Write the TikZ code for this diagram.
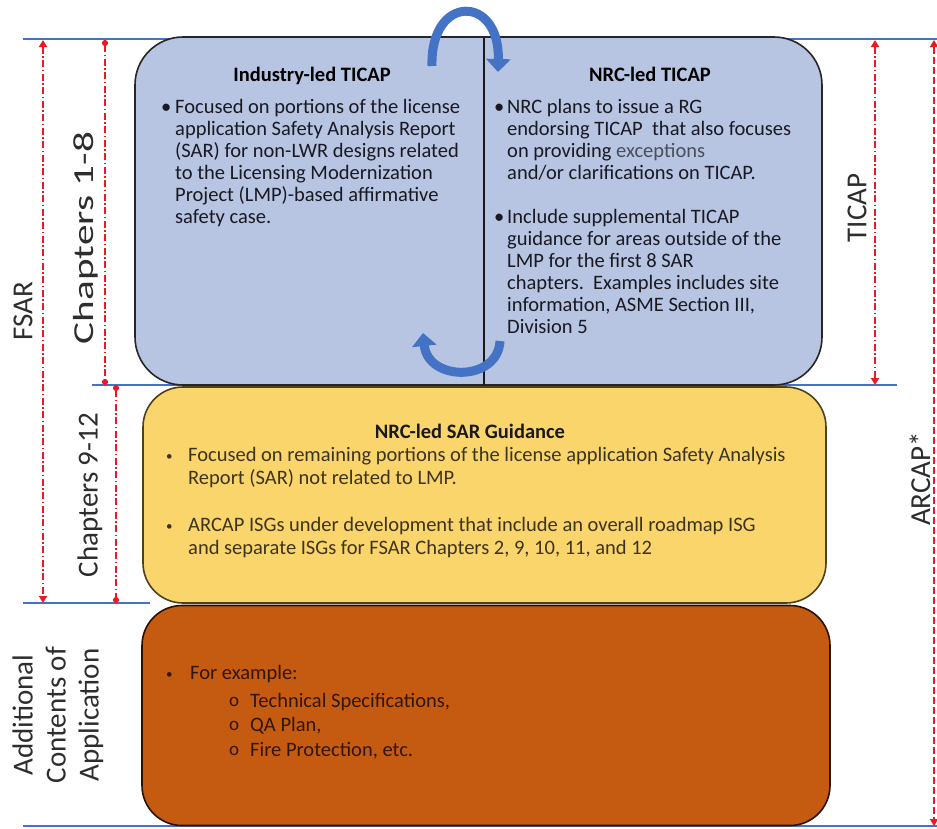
\documentclass[tikz,border=0pt]{standalone}
\usepackage{fontspec}
\setmainfont{Carlito}
\usetikzlibrary{arrows.meta}
\definecolor{boxblue}{RGB}{183,196,226}
\definecolor{boxyellow}{RGB}{250,213,108}
\definecolor{boxbrown}{RGB}{197,90,17}
\definecolor{lineblue}{RGB}{68,114,196}
\definecolor{dimred}{RGB}{235,25,35}
\definecolor{ytext}{RGB}{60,52,30}
\definecolor{btext}{RGB}{50,22,5}
\definecolor{ttext}{RGB}{25,25,35}
\definecolor{labtext}{RGB}{45,45,45}
\newcommand{\bodyfont}{\fontsize{20.5}{22}\selectfont}
\newcommand{\labfont}{\fontsize{29}{33}\selectfont}
\newcommand{\smallbul}{{\fontsize{13}{13}\selectfont\raisebox{1pt}{•}}}
\begin{document}
\begin{tikzpicture}[x=1pt,y=-1pt,
  panel/.style={rectangle, rounded corners=45pt, line width=1.6pt, inner sep=0pt},
  hline/.style={draw=lineblue, line width=1.5pt},
  dimarrow/.style={draw=dimred, line width=1.8pt, dash pattern=on 7pt off 2.5pt on 1.5pt off 2.5pt,
     {Triangle[width=8pt,length=7pt]}-{Triangle[width=8pt,length=7pt]}},
  dimdot/.style={draw=dimred, line width=1.8pt, dash pattern=on 7pt off 2.5pt on 1.5pt off 2.5pt,
     {Circle[length=6pt]}-{Circle[length=6pt]}},
  sidelabel/.style={rotate=90, font=\labfont, text=labtext, inner sep=0pt},
  txt/.style={anchor=base west, inner sep=0pt, font=\bodyfont},
  ttl/.style={anchor=base, inner sep=0pt, font=\bodyfont\bfseries},
  curv/.style={draw=lineblue, line width=9pt, -{Triangle[width=24pt,length=13pt]}}
]
\useasboundingbox (0,0) rectangle (937,828);

% blue horizontal reference lines
\coordinate (h1a) at (23,39);  \coordinate (h1b) at (937,39);
\coordinate (h2a) at (92,385); \coordinate (h2b) at (897,385);
\coordinate (h3a) at (23,603); \coordinate (h3b) at (150,603);
\coordinate (h4a) at (23,826); \coordinate (h4b) at (937,826);
\draw[hline] (h1a) -- (h1b);
\draw[hline] (h2a) -- (h2b);
\draw[hline] (h3a) -- (h3b);
\draw[hline] (h4a) -- (h4b);

% panels
\node[panel, rounded corners=48pt, draw=black!85, fill=boxblue, minimum width=687pt, minimum height=348pt] (top) at (478.5,211) {};
\node[panel, rounded corners=40pt, draw=black!70!boxyellow, fill=boxyellow, minimum width=683pt, minimum height=216pt] (mid) at (484.5,495) {};
\node[panel, rounded corners=40pt, draw=black!80!boxbrown, fill=boxbrown, minimum width=688pt, minimum height=220pt] (bot) at (486,715.5) {};

% divider
\coordinate (dvT) at (484,38); \coordinate (dvB) at (484,385);
\draw[line width=2pt, black!90] (dvT) -- (dvB);

% curved arrows
\coordinate (ca1) at (432,66); \coordinate (ca2) at (498,72);
\draw[curv] (ca1) .. controls (430,-6) and (500,-6) .. (ca2);
\coordinate (cb1) at (500,341); \coordinate (cb2) at (423,333);
\draw[curv] (cb1) .. controls (498,382) and (428,382) .. (cb2);

% Industry-led TICAP
\node[ttl, text=black] (t1) at (312,81) {Industry-led TICAP};
\node[txt, text=ttext] (b1) at (161,113) {•};
\foreach \l [count=\i from 0] in {
  {Focused on portions of the license},
  {application Safety Analysis Report},
  {(SAR) for non-LWR designs related},
  {to the Licensing Modernization},
  {Project (LMP)-based affirmative},
  {safety case.}}
  \node[txt, text=ttext] (la\i) at (175,113+22*\i) {\l};

% NRC-led TICAP
\node[ttl, text=black] (t2) at (650,81) {NRC-led TICAP};
\node[txt, text=ttext] (b2) at (494,113) {•};
\node[txt, text=ttext] (b3) at (494,223) {•};
\node[txt, text=ttext] (lb0) at (507,113) {NRC plans to issue a RG};
\node[txt, text=ttext] (lb1) at (507,135) {endorsing TICAP\ \ that also focuses};
\node[txt, text=ttext] (lb2) at (507,157) {on providing \textcolor{black!60!boxblue}{exceptions}};
\node[txt, text=ttext] (lb3) at (507,179) {and/or clarifications on TICAP.};
\foreach \l [count=\i from 0] in {
  {Include supplemental TICAP},
  {guidance for areas outside of the},
  {LMP for the first 8 SAR},
  {chapters.\ \ Examples includes site},
  {information, ASME Section III,},
  {Division 5}}
  \node[txt, text=ttext] (lc\i) at (507,223+22*\i) {\l};

% NRC-led SAR Guidance
\node[ttl, text=black!90] (t3) at (470,438) {NRC-led SAR Guidance};
\node[txt, text=ytext] (b4) at (166,461) {\smallbul};
\node[txt, text=ytext] (b5) at (166,531) {\smallbul};
\node[txt, text=ytext] (ld0) at (188,461) {Focused on remaining portions of the license application Safety Analysis};
\node[txt, text=ytext] (ld1) at (188,484) {Report (SAR) not related to LMP.};
\node[txt, text=ytext] (ld2) at (188,531) {ARCAP ISGs under development that include an overall roadmap ISG};
\node[txt, text=ytext] (ld3) at (188,554) {and separate ISGs for FSAR Chapters 2, 9, 10, 11, and 12};

% Additional contents
\node[txt, text=btext] (b6) at (166,679) {\smallbul};
\node[txt, text=btext] (le0) at (190,679) {For example:};
\foreach \l [count=\i from 0] in {
  {Technical Specifications,},
  {QA Plan,},
  {Fire Protection, etc.}}
  {
  \node[txt, text=btext, font=\fontsize{19}{19}\selectfont] (o\i) at (229,706+24.5*\i) {o};
  \node[txt, text=btext] (lf\i) at (250,707+24.5*\i) {\l};
  }

% dimension lines
\coordinate (fsT) at (43,40);  \coordinate (fsB) at (43,603);
\coordinate (c1T) at (105,40); \coordinate (c1B) at (105,385);
\coordinate (c2T) at (116,385); \coordinate (c2B) at (116,603);
\coordinate (tiT) at (875,40); \coordinate (tiB) at (875,385);
\coordinate (arT) at (934,40); \coordinate (arB) at (934,826);
\draw[dimarrow] (fsT) -- (fsB);
\draw[dimdot] (c1T) -- (c1B);
\draw[dimdot] (c2T) -- (c2B);
\draw[dimarrow] (tiT) -- (tiB);
\draw[dimarrow, dash pattern=on 7pt off 3pt] (arT) -- (arB);

% side labels
\node[sidelabel] (lfsar) at (23,311) {FSAR};
\node[sidelabel] (lch1) at (86,238) {\scalebox{1.42}[1]{Chapters 1-8}};
\node[sidelabel] (lch2) at (90,495) {Chapters 9-12};
\node[sidelabel, align=center] (ladd) at (58,715) {Additional\\Contents of\\Application};
\node[sidelabel] (lticap) at (857,208) {TICAP};
\node[sidelabel] (larcap) at (920,479) {ARCAP*};
\end{tikzpicture}
\end{document}
